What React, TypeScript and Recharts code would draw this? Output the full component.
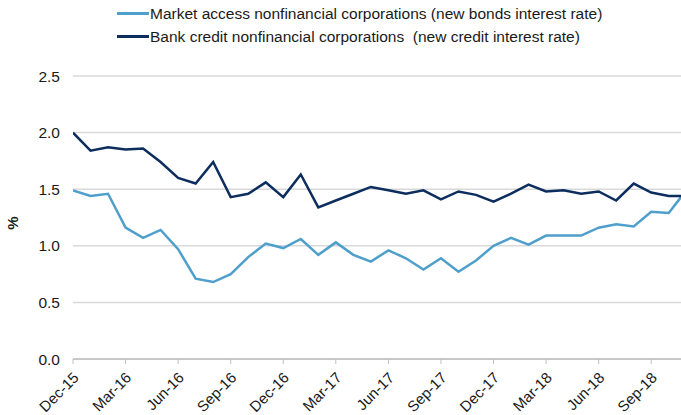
import React from 'react';
import { CartesianGrid, Line, LineChart, XAxis, YAxis } from 'recharts';

const MONTHS = [
  'Dec-15', 'Jan-16', 'Feb-16', 'Mar-16', 'Apr-16', 'May-16', 'Jun-16', 'Jul-16', 'Aug-16',
  'Sep-16', 'Oct-16', 'Nov-16', 'Dec-16', 'Jan-17', 'Feb-17', 'Mar-17', 'Apr-17', 'May-17',
  'Jun-17', 'Jul-17', 'Aug-17', 'Sep-17', 'Oct-17', 'Nov-17', 'Dec-17', 'Jan-18', 'Feb-18',
  'Mar-18', 'Apr-18', 'May-18', 'Jun-18', 'Jul-18', 'Aug-18', 'Sep-18', 'Oct-18', 'Nov-18',
];

const MARKET_ACCESS = [
  1.49, 1.44, 1.46, 1.16, 1.07, 1.14, 0.97, 0.71, 0.68, 0.75, 0.9, 1.02, 0.98, 1.06, 0.92, 1.03,
  0.92, 0.86, 0.96, 0.89, 0.79, 0.89, 0.77, 0.87, 1.0, 1.07, 1.01, 1.09, 1.09, 1.09, 1.16, 1.19,
  1.17, 1.3, 1.29, 1.49,
];

const BANK_CREDIT = [
  2.0, 1.84, 1.87, 1.85, 1.86, 1.74, 1.6, 1.55, 1.74, 1.43, 1.46, 1.56, 1.43, 1.63, 1.34, 1.4,
  1.46, 1.52, 1.49, 1.46, 1.49, 1.41, 1.48, 1.45, 1.39, 1.46, 1.54, 1.48, 1.49, 1.46, 1.48, 1.4,
  1.55, 1.47, 1.44, 1.44,
];

const X_TICKS = [0, 3, 6, 9, 12, 15, 18, 21, 24, 27, 30, 33];
const Y_TICKS = [0, 0.5, 1, 1.5, 2, 2.5];

const SERIES_NAMES = [
  'Market access nonfinancial corporations (new bonds interest rate)',
  'Bank credit nonfinancial corporations  (new credit interest rate)',
];

const LIGHT = '#4e9fcb';
const DARK = '#0c2d5e';
const FONT = '"Liberation Sans", Arial, sans-serif';

const data = MONTHS.map((m, i) => ({
  idx: i,
  month: m,
  market: MARKET_ACCESS[i],
  bank: BANK_CREDIT[i],
}));

const MonthTick = (props: any) => {
  const { x, y, payload } = props;
  const ax = x + 3;
  const ay = y + 9;
  return (
    <text
      x={ax}
      y={ay}
      dy="0.35em"
      textAnchor="end"
      transform={`rotate(-45, ${ax}, ${ay})`}
      fontSize={15}
      fontFamily={FONT}
      fill="#1a1a1a"
    >
      {MONTHS[payload.value]}
    </text>
  );
};

const PercentLabel = () => (
  <text
    x={18}
    y={223}
    textAnchor="middle"
    transform="rotate(-90, 18, 223)"
    fontSize={15}
    fontWeight="bold"
    fontFamily={FONT}
    fill="#1a1a1a"
  >
    %
  </text>
);

const App: React.FC = () => {
  return (
    <div
      style={{
        position: 'absolute',
        left: 0,
        top: 0,
        width: 681,
        height: 415,
        overflow: 'hidden',
        background: '#fff',
        fontFamily: FONT,
      }}
    >
      <div style={{ position: 'absolute', left: 117, top: 2, fontSize: 15.5, color: '#1a1a1a' }}>
        {SERIES_NAMES.map((name, i) => (
          <div
            key={name}
            style={{ display: 'flex', alignItems: 'center', height: 23, whiteSpace: 'pre' }}
          >
            <span
              style={{
                display: 'inline-block',
                width: 32,
                height: 2.5,
                background: i === 0 ? LIGHT : DARK,
                marginRight: 1,
              }}
            />
            <span>{name}</span>
          </div>
        ))}
      </div>
      <LineChart
        width={681}
        height={415}
        data={data}
        margin={{ top: 76, right: 0, bottom: 0, left: 0 }}
      >
        <CartesianGrid vertical={false} stroke="#d9d9d9" strokeWidth={1.5} />
        <XAxis
          type="number"
          dataKey="idx"
          domain={[0, 34.7]}
          allowDataOverflow
          ticks={X_TICKS}
          interval={0}
          height={56}
          tick={<MonthTick />}
          tickSize={5}
          axisLine={{ stroke: '#bfbfbf', strokeWidth: 1.5 }}
          tickLine={{ stroke: '#bfbfbf' }}
        />
        <YAxis
          type="number"
          domain={[0, 2.5]}
          ticks={Y_TICKS}
          width={73}
          axisLine={false}
          tickLine={false}
          tickMargin={7}
          tickFormatter={(v: number) => v.toFixed(1)}
          tick={{ fontSize: 15.5, fill: '#1a1a1a', fontFamily: FONT }}
          label={<PercentLabel />}
        />
        <Line
          type="linear"
          dataKey="market"
          name={SERIES_NAMES[0]}
          stroke={LIGHT}
          strokeWidth={2.5}
          dot={false}
          isAnimationActive={false}
        />
        <Line
          type="linear"
          dataKey="bank"
          name={SERIES_NAMES[1]}
          stroke={DARK}
          strokeWidth={2.5}
          dot={false}
          isAnimationActive={false}
        />
      </LineChart>
    </div>
  );
};

export default App;
